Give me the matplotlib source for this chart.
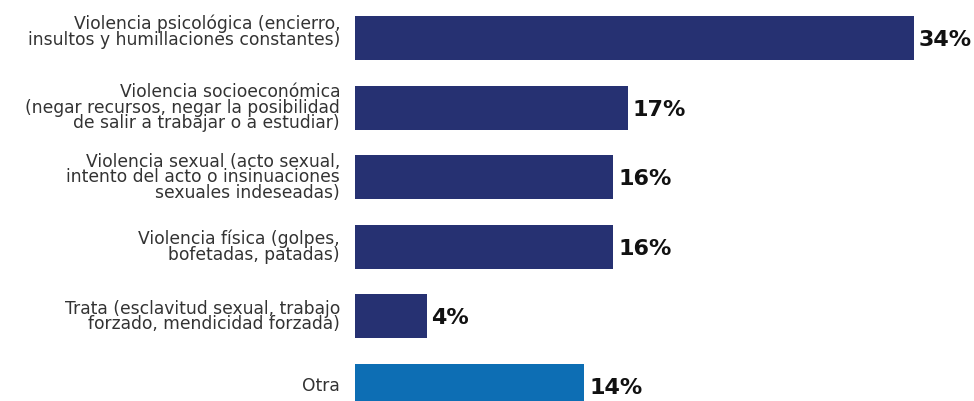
import matplotlib
matplotlib.use("Agg")
import matplotlib.pyplot as plt

categories = [
    "Violencia psicológica (encierro,\ninsultos y humillaciones constantes)",
    "Violencia socioeconómica\n(negar recursos, negar la posibilidad\nde salir a trabajar o a estudiar)",
    "Violencia sexual (acto sexual,\nintento del acto o insinuaciones\nsexuales indeseadas)",
    "Violencia física (golpes,\nbofetadas, patadas)",
    "Trata (esclavitud sexual, trabajo\nforzado, mendicidad forzada)",
    "Otra",
]
values = [34.4, 16.8, 15.9, 15.9, 4.4, 14.1]
value_labels = ["34%", "17%", "16%", "16%", "4%", "14%"]
colors = ["#263172", "#263172", "#263172", "#263172", "#263172", "#0d6eb4"]

fig = plt.figure(figsize=(9.74, 4.01), dpi=100)
ax = fig.add_axes([355 / 974, 0, 1 - 355 / 974, 1])

y = list(range(len(categories)))
ax.barh(y, values, height=0.632, color=colors)
ax.set_xlim(0, 619 / 16.25)
ax.set_ylim(5.216, -0.546)
ax.axis("off")

for i, (yi, v, lab, cat) in enumerate(zip(y, values, value_labels, categories)):
    ax.text(v + 0.3, yi + 0.03, lab, ha="left", va="center",
            fontsize=16, fontweight="bold", color="#111111", family="DejaVu Sans")
    dy = 4.5 if i == 0 else 0
    ax.annotate(cat, xy=(0, yi), xytext=(-10.8, dy), textcoords="offset points",
                ha="right", va="center", fontsize=12.3, color="#333333",
                family="DejaVu Sans", linespacing=0.83)

fig.savefig("out.png", dpi=100)
